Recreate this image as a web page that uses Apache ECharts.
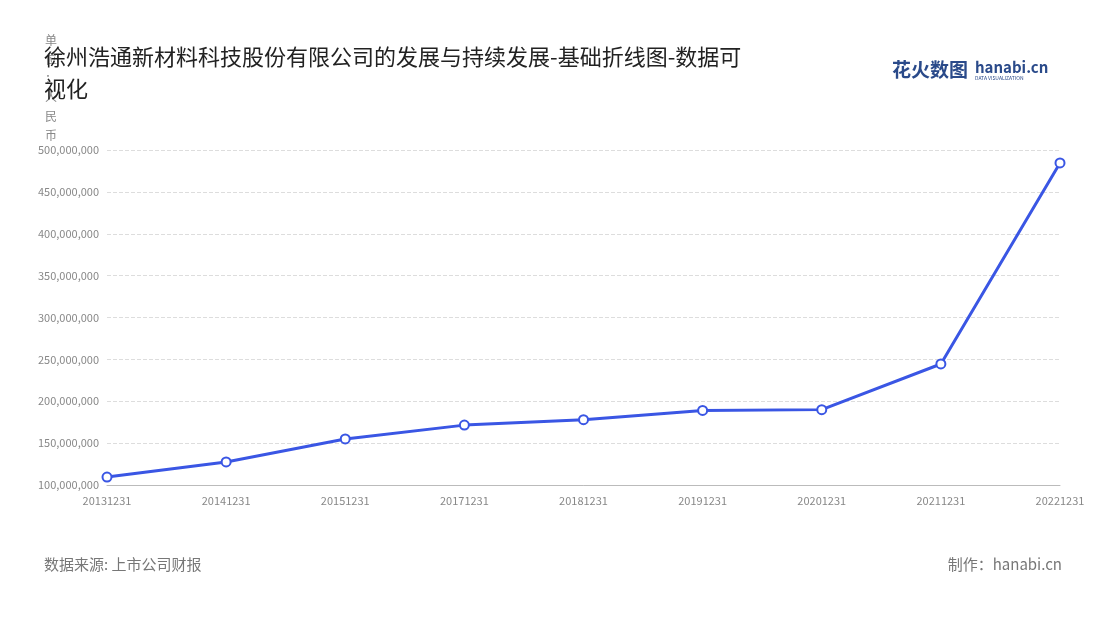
<!DOCTYPE html>
<html><head><meta charset="utf-8">
<script src="https://cdn.jsdelivr.net/npm/echarts@6/dist/echarts.min.js"></script>
<style>html,body{margin:0;padding:0;background:#fff}#c{width:1100px;height:620px}</style>
</head><body><div id="c"></div>
<script>
var years = ['20131231','20141231','20151231','20171231','20181231','20191231','20201231','20211231','20221231'];
var values = [109500000,127500000,155000000,171500000,178000000,189000000,190000000,244500000,484500000];
var yTicks = {min:100000000, max:500000000, interval:50000000};

var chart = echarts.init(document.getElementById('c'));
var font = '"Noto Sans CJK SC","Noto Sans",sans-serif';
chart.setOption({
  textStyle:{fontFamily:font},
  title:{
    text:'徐州浩通新材料科技股份有限公司的发展与持续发展-基础折线图-数据可\n视化',
    left:39, top:36,
    textStyle:{fontSize:22, fontWeight:'normal', color:'#222', lineHeight:32, fontFamily:font}
  },
  graphic:[
    {type:'text', left:892, top:60, style:{text:'花火数图', fill:'#2a4a8a', font:'bold 19px '+font}},
    {type:'text', left:975, top:60, style:{text:'hanabi.cn', fill:'#2a4a8a', font:'bold 15px '+font}},
    {type:'text', left:975, top:76, style:{text:'DATA VISUALIZATION', fill:'#2a4a8a', font:'5px '+font}},
    {type:'text', left:44, top:557, style:{text:'数据来源: 上市公司财报', fill:'#777', font:'15px '+font}},
    {type:'text', right:38, top:557, style:{text:'制作：hanabi.cn', fill:'#777', font:'15px '+font}}
  ],
  grid:{left:107, right:40, top:150, bottom:135},
  xAxis:{
    type:'category', data:years, boundaryGap:false,
    axisLine:{lineStyle:{color:'#bbb'}}, axisTick:{show:false},
    axisLabel:{color:'#888', fontSize:11, margin:10}
  },
  yAxis:{
    type:'value', min:yTicks.min, max:yTicks.max, interval:yTicks.interval,
    name:'单\n位\n：\n人\n民\n币', nameLocation:'end', nameGap:-183,
    nameTextStyle:{color:'#888', fontSize:12, lineHeight:19, align:'right', padding:[0,50,0,0]},
    axisLine:{show:false}, axisTick:{show:false},
    axisLabel:{color:'#888', fontSize:11, margin:8,
      formatter:function(v){return v.toLocaleString('en-US');}},
    splitLine:{lineStyle:{type:'dashed', color:'#ddd'}}
  },
  series:[{
    type:'line', data:values, symbol:'circle', symbolSize:9,
    lineStyle:{color:'#3a56e4', width:3},
    itemStyle:{color:'#fff', borderColor:'#3a56e4', borderWidth:2}
  }]
});
</script></body></html>
